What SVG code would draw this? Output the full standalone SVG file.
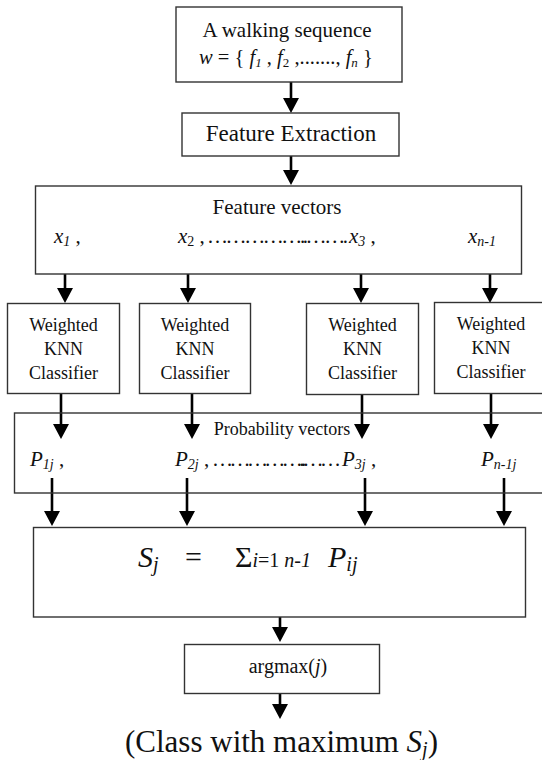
<svg xmlns="http://www.w3.org/2000/svg" width="542" height="760" viewBox="0 0 542 760" font-family="'Liberation Serif', serif">
  <style>
    text, tspan { font-family: 'Liberation Serif', serif; fill: #111; }
    .box { fill: #fff; stroke: #333; stroke-width: 1.4; }
    .open { fill: none; stroke: #333; stroke-width: 1.4; }
    .mid { text-anchor: middle; }
    .it { font-style: italic; }
    .link { stroke: #000; stroke-width: 2.6; fill: none; marker-end: url(#head); }
  </style>
  <defs>
    <marker id="head" viewBox="0 -8 15 16" refX="0" refY="0" markerWidth="15" markerHeight="16" markerUnits="userSpaceOnUse" orient="auto">
      <path d="M0,-8 L15,0 L0,8 z" fill="#000"/>
    </marker>
  </defs>
  <rect width="542" height="760" fill="#fff"/>

  <!-- connectors -->
  <g id="connectors">
    <line class="link" x1="291" y1="82" x2="291" y2="98"/>
    <line class="link" x1="291" y1="156" x2="291" y2="170"/>

    <line class="link" x1="65" y1="252" x2="65" y2="288"/>
    <line class="link" x1="188" y1="252" x2="188" y2="288"/>
    <line class="link" x1="361" y1="252" x2="361" y2="288"/>
    <line class="link" x1="490" y1="252" x2="490" y2="288"/>

    <line class="link" x1="61" y1="393" x2="61" y2="424"/>
    <line class="link" x1="192" y1="393" x2="192" y2="424"/>
    <line class="link" x1="362" y1="393" x2="362" y2="424"/>
    <line class="link" x1="491" y1="393" x2="491" y2="424"/>

    <line class="link" x1="52" y1="478" x2="52" y2="511"/>
    <line class="link" x1="187" y1="478" x2="187" y2="511"/>
    <line class="link" x1="365" y1="478" x2="365" y2="511"/>
    <line class="link" x1="504" y1="478" x2="504" y2="511"/>

    <line class="link" x1="280" y1="617" x2="280" y2="627"/>
    <line class="link" x1="280" y1="693" x2="280" y2="704"/>
  </g>

  <!-- input sequence -->
  <g id="walking-sequence">
    <rect class="box" x="176" y="7" width="226" height="75"/>
    <text class="mid" x="287" y="37" font-size="21">A walking sequence</text>
    <text x="199" y="64" font-size="20.5"><tspan class="it">w</tspan> = { <tspan class="it">f</tspan><tspan class="it" font-size="13" dy="3">1</tspan><tspan dy="-3"> , </tspan><tspan class="it">f</tspan><tspan font-size="13" dy="3">2</tspan><tspan dy="-3"> ,......., </tspan><tspan class="it">f</tspan><tspan class="it" font-size="13" dy="3">n</tspan><tspan dy="-3"> }</tspan></text>
  </g>

  <g id="feature-extraction">
    <rect class="box" x="182" y="113" width="217" height="43"/>
    <text class="mid" x="291" y="141" font-size="23">Feature Extraction</text>
  </g>

  <g id="feature-vectors">
    <rect class="box" x="35.5" y="186" width="486" height="88"/>
    <text class="mid" x="277" y="214" font-size="21">Feature vectors</text>
    <text x="54" y="243" font-size="21"><tspan class="it">x</tspan><tspan class="it" font-size="14" dy="3">1</tspan><tspan dy="-3"> ,</tspan></text>
    <text x="178" y="243" font-size="21"><tspan class="it">x</tspan><tspan font-size="14" dy="3">2</tspan><tspan dy="-3"> ,</tspan></text>
    <text x="207" y="243" font-size="21" textLength="141" lengthAdjust="spacing">……………..…….</text>
    <text x="349" y="243" font-size="21"><tspan class="it">x</tspan><tspan class="it" font-size="14" dy="3">3</tspan><tspan dy="-3"> ,</tspan></text>
    <text x="468" y="243" font-size="21"><tspan class="it">x</tspan><tspan class="it" font-size="14" dy="3">n-1</tspan></text>
  </g>

  <!-- classifiers -->
  <g id="classifier-1">
    <rect class="box" x="7.5" y="303.5" width="112" height="90"/>
    <text class="mid" x="63.5" y="331" font-size="18">Weighted</text>
    <text class="mid" x="63.5" y="355" font-size="18">KNN</text>
    <text class="mid" x="63.5" y="379" font-size="18">Classifier</text>
  </g>
  <g id="classifier-2">
    <rect class="box" x="139.5" y="303.5" width="111" height="90"/>
    <text class="mid" x="195" y="331" font-size="18">Weighted</text>
    <text class="mid" x="195" y="355" font-size="18">KNN</text>
    <text class="mid" x="195" y="379" font-size="18">Classifier</text>
  </g>
  <g id="classifier-3">
    <rect class="box" x="306.5" y="303.5" width="112" height="91"/>
    <text class="mid" x="362.5" y="331" font-size="18">Weighted</text>
    <text class="mid" x="362.5" y="355" font-size="18">KNN</text>
    <text class="mid" x="362.5" y="379" font-size="18">Classifier</text>
  </g>
  <g id="classifier-4">
    <rect class="box" x="434.5" y="302.5" width="112" height="91"/>
    <text class="mid" x="491" y="330" font-size="18">Weighted</text>
    <text class="mid" x="491" y="354" font-size="18">KNN</text>
    <text class="mid" x="491" y="378" font-size="18">Classifier</text>
  </g>

  <g id="probability-vectors">
    <rect class="open" x="14.5" y="413" width="540" height="80"/>
    <text class="mid" x="282" y="435" font-size="18">Probability vectors</text>
    <text x="30" y="466" font-size="21"><tspan class="it">P</tspan><tspan class="it" font-size="14" dy="3">1j</tspan><tspan dy="-3"> ,</tspan></text>
    <text x="175" y="466" font-size="21"><tspan class="it">P</tspan><tspan class="it" font-size="14" dy="3">2j</tspan><tspan dy="-3"> ,</tspan></text>
    <text x="212" y="466" font-size="21" textLength="129" lengthAdjust="spacing">……………..……</text>
    <text x="342" y="466" font-size="21"><tspan class="it">P</tspan><tspan class="it" font-size="14" dy="3">3j</tspan><tspan dy="-3"> ,</tspan></text>
    <text x="481" y="466" font-size="21"><tspan class="it">P</tspan><tspan class="it" font-size="14" dy="3">n-1j</tspan></text>
  </g>

  <g id="score-sum">
    <rect class="box" x="33.5" y="527.5" width="492" height="89.5"/>
    <text x="138" y="567" font-size="30"><tspan class="it">S</tspan><tspan class="it" font-size="20" dy="4">j</tspan></text>
    <text x="185" y="567" font-size="30">=</text>
    <text x="235" y="567" font-size="30">Σ<tspan class="it" font-size="20">i</tspan><tspan font-size="20">=1 </tspan><tspan class="it" font-size="20">n-1</tspan></text>
    <text x="328" y="567" font-size="30"><tspan class="it">P</tspan><tspan class="it" font-size="20" dy="4">ij</tspan></text>
  </g>

  <g id="argmax">
    <rect class="box" x="184.5" y="644.5" width="195" height="49"/>
    <text class="mid" x="288" y="673" font-size="20">argmax(<tspan class="it">j</tspan>)</text>
  </g>

  <g id="result">
    <text x="125" y="752" font-size="31">(Class with maximum <tspan class="it">S</tspan><tspan class="it" font-size="20" dy="4">j</tspan><tspan dy="-4">)</tspan></text>
  </g>
</svg>
